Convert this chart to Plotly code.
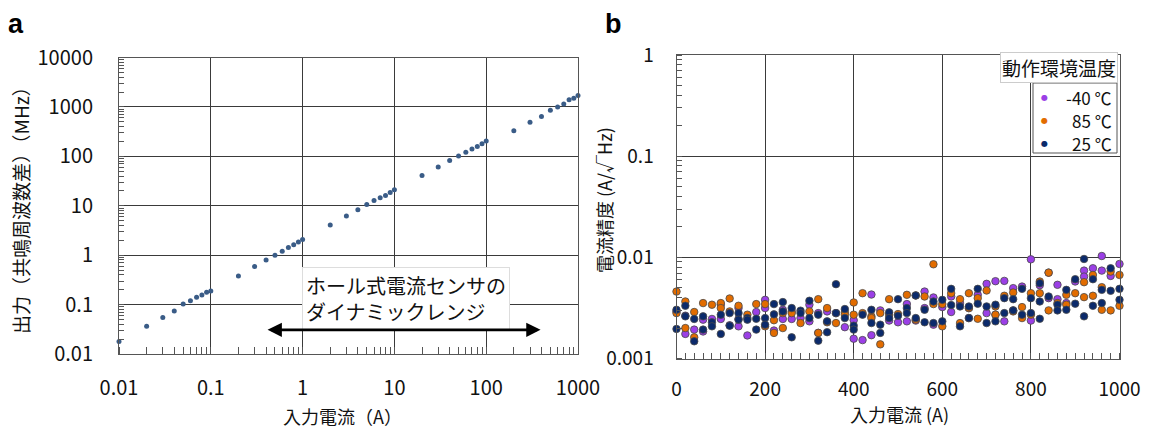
import math
import plotly.graph_objects as go

# ---------------- Panel a data ----------------
current_a = [0.01, 0.02, 0.03, 0.04, 0.05, 0.06, 0.07, 0.08, 0.09, 0.1,
             0.2, 0.3, 0.4, 0.5, 0.6, 0.7, 0.8, 0.9, 1,
             2, 3, 4, 5, 6, 7, 8, 9, 10,
             20, 30, 40, 50, 60, 70, 80, 90, 100,
             200, 300, 400, 500, 600, 700, 800, 900, 1000]
output_mhz = [0.018, 0.0363, 0.055, 0.074, 0.103, 0.119, 0.14, 0.157, 0.178, 0.189,
              0.38, 0.59, 0.80, 1.0, 1.2, 1.43, 1.62, 1.84, 2.08,
              4.06, 6.2, 8.3, 10.6, 12.8, 14.5, 16.2, 18.5, 21,
              41, 61, 82, 101, 121, 141, 158, 180, 204,
              331, 488, 637, 856, 1000, 1150, 1400, 1500, 1700]
hall_range_A = [0.4, 391]
hall_arrow_level = 0.0308
a_xticks = [0.01, 0.1, 1, 10, 100, 1000]
a_xticklabels = ["0.01", "0.1", "1", "10", "100", "1000"]
a_yticks = [0.01, 0.1, 1, 10, 100, 1000, 10000]
a_yticklabels = ["0.01", "0.1", "1", "10", "100", "1000", "10000"]

# ---------------- Panel b data ----------------
m40_x = [0, 20, 20, 40, 60, 60, 80, 100, 100, 120, 140, 140, 140, 160, 180, 200, 200, 220,
         240, 240, 260, 260, 280, 300, 300, 320, 320, 340, 360, 380, 400, 400, 420, 440, 440,
         460, 480, 500, 520, 520, 540, 560, 560, 580, 580, 600, 620, 620, 640, 660, 660, 680,
         700, 700, 720, 720, 740, 740, 760, 760, 780, 800, 800, 820, 840, 840, 860, 860, 880,
         900, 920, 920, 940, 960, 960, 980, 1000]
m40_y = [0.00292, 0.00265, 0.00175, 0.00193, 0.00242, 0.00185, 0.00246, 0.00340, 0.00246, 0.00213,
         0.00315, 0.00246, 0.00208, 0.00169, 0.00288, 0.00380, 0.00315, 0.00189,
         0.00303, 0.00246, 0.00292, 0.00246, 0.00251, 0.00340, 0.00233, 0.00281, 0.00179,
         0.00292, 0.00281, 0.00204, 0.00239, 0.00157, 0.00152, 0.00429, 0.00170,
         0.00299, 0.00237, 0.00228, 0.00345, 0.00233, 0.00237, 0.00459, 0.00315, 0.00401, 0.00216,
         0.00322, 0.00410, 0.00288, 0.00353, 0.00315, 0.00251, 0.00426,
         0.00547, 0.00281, 0.00581, 0.00271, 0.00585, 0.00233, 0.00496, 0.00299, 0.00514,
         0.00956, 0.00237, 0.00530, 0.00706, 0.00395, 0.00535, 0.00386, 0.00353,
         0.00577, 0.00739, 0.00645, 0.00780, 0.0103, 0.00739, 0.00655, 0.00860]

p85_x = [0, 0, 20, 20, 40, 40, 60, 80, 100, 100, 120, 120, 140, 160, 180, 200, 200, 220, 220,
         240, 240, 260, 280, 300, 320, 320, 340, 340, 360, 380, 380, 400, 400, 420, 420, 440, 440,
         460, 460, 480, 480, 500, 520, 540, 540, 560, 580, 580, 600, 600, 620, 640, 640, 660, 660,
         680, 680, 700, 720, 720, 740, 760, 760, 780, 780, 800, 800, 820, 820, 840, 840, 860,
         880, 880, 900, 920, 920, 940, 940, 960, 960, 980, 980, 1000, 1000]
p85_y = [0.00459, 0.00281, 0.00366, 0.00200, 0.00288, 0.00162, 0.00353, 0.00340, 0.00353, 0.00315,
         0.00392, 0.00292, 0.00332, 0.00271, 0.00345, 0.00345, 0.00208, 0.00239, 0.00179,
         0.00281, 0.00200, 0.00281, 0.00224, 0.00292, 0.00386, 0.00179, 0.00315, 0.00228,
         0.00224, 0.00286, 0.00271, 0.00358, 0.00271, 0.00442, 0.00281, 0.00261, 0.00251,
         0.00281, 0.00138, 0.00386, 0.00271, 0.00275, 0.00426, 0.00420, 0.00242, 0.00410,
         0.00854, 0.00345, 0.00345, 0.00208, 0.00442, 0.00386, 0.00224, 0.00442, 0.00315,
         0.00395, 0.00247, 0.00470, 0.00327, 0.00271, 0.00417, 0.00449, 0.00292, 0.00322, 0.00251,
         0.00442, 0.00271, 0.00577, 0.00442, 0.00706, 0.00299, 0.00353,
         0.00426, 0.00340, 0.00442, 0.00568, 0.00404, 0.00670, 0.00417, 0.00507, 0.00303,
         0.00723, 0.00299, 0.00670, 0.00332]

p25_x = [0, 0, 20, 20, 40, 40, 60, 60, 80, 80, 100, 100, 120, 120, 140, 140, 160, 160, 180, 180,
         200, 200, 220, 220, 240, 240, 260, 260, 280, 280, 300, 300, 320, 320, 340, 340, 360, 360,
         380, 380, 400, 400, 420, 440, 440, 460, 460, 480, 480, 500, 500, 520, 520, 540, 540,
         560, 560, 580, 580, 600, 600, 620, 620, 640, 640, 660, 660, 680, 680, 700, 700, 720, 720,
         740, 740, 760, 760, 780, 780, 800, 800, 820, 820, 820, 840, 860, 860, 880, 880, 900, 900,
         920, 920, 940, 940, 960, 960, 980, 980, 1000, 1000]
p25_y = [0.00303, 0.00196, 0.00332, 0.00261, 0.00246, 0.00148, 0.00261, 0.00193, 0.00228, 0.00208,
         0.00271, 0.00175, 0.00281, 0.00211, 0.00281, 0.00242, 0.00251, 0.00242, 0.00247, 0.00193,
         0.00251, 0.00216, 0.00345, 0.00273, 0.00361, 0.00292, 0.00315, 0.00162, 0.00297, 0.00281,
         0.00372, 0.00251, 0.00271, 0.00150, 0.00233, 0.00182, 0.00543, 0.00281,
         0.00308, 0.00251, 0.00211, 0.00193, 0.00271, 0.00303, 0.00224, 0.00216, 0.00179,
         0.00286, 0.00251, 0.00386, 0.00265, 0.00315, 0.00281, 0.00420, 0.00251,
         0.00303, 0.00228, 0.00366, 0.00224, 0.00380, 0.00233, 0.00488, 0.00337, 0.00327, 0.00208,
         0.00327, 0.00251, 0.00488, 0.00348, 0.00327, 0.00224, 0.00340, 0.00233,
         0.00395, 0.00281, 0.00386, 0.00299, 0.00488, 0.00271, 0.00395, 0.00281,
         0.00555, 0.00366, 0.00247, 0.00410, 0.00340, 0.00299, 0.00477, 0.00303, 0.00608, 0.00348,
         0.00963, 0.00261, 0.00608, 0.00332, 0.00477, 0.00353, 0.00780, 0.00467, 0.00488, 0.00380]

series_names = ["-40 ℃", "85 ℃", "25 ℃"]
series_colors = ["#9b3fe6", "#e26c00", "#0b2a6b"]
b_xticks = [0, 200, 400, 600, 800, 1000]
b_yticks = [0.001, 0.01, 0.1, 1]
b_yticklabels = ["0.001", "0.01", "0.1", "1"]

W, H = 1150, 430
OX, OY = 8, 8   # page body margin offset
FONT = "Noto Sans CJK JP"
GRID = "#3a3a3a"
FRAME = "#555555"

def px_x(p):
    return (p - OX) / W

def px_y(p):
    return 1 - (p - OY) / H

fig = go.Figure()

fig.add_trace(go.Scatter(
    x=current_a, y=output_mhz, mode="markers", xaxis="x", yaxis="y",
    marker=dict(size=5, color="#3a5c87"), showlegend=False, cliponaxis=False))

series = [(m40_x, m40_y), (p85_x, p85_y), (p25_x, p25_y)]
for (sx, sy), name, col in zip(series, series_names, series_colors):
    fig.add_trace(go.Scatter(
        x=sx, y=sy, mode="markers", xaxis="x2", yaxis="y2", name=name,
        marker=dict(size=7.5, color=col, line=dict(color="#4a4a4a", width=0.8)),
        showlegend=False, cliponaxis=False))

tick_a = dict(family=FONT, size=20, color="#111")
tick_b = dict(family=FONT, size=19, color="#111")
minor_log = dict(ticks="inside", ticklen=5, tickcolor=FRAME, dtick="D1", showgrid=False)

fig.update_layout(
    width=W, height=H,
    margin=dict(l=0, r=0, t=0, b=0, autoexpand=False),
    paper_bgcolor="white", plot_bgcolor="white",
    font=dict(family=FONT, size=18, color="#111"),
    showlegend=False,
    xaxis=dict(type="log", domain=[px_x(119), px_x(578)], range=[-2, 3],
               tickvals=a_xticks, ticktext=a_xticklabels, tickfont=tick_a,
               showgrid=True, gridcolor=GRID, gridwidth=1,
               showline=True, linecolor=FRAME, linewidth=1, mirror=True,
               ticks="", ticklabelstandoff=16, automargin=False,
               minor=dict(ticks="inside", ticklen=7, tickcolor=FRAME, dtick="D1", showgrid=False),
               zeroline=False, anchor="y"),
    yaxis=dict(type="log", domain=[px_y(354), px_y(57.5)], range=[-2, 4],
               tickvals=a_yticks, ticktext=a_yticklabels, tickfont=tick_a,
               showgrid=True, gridcolor=GRID, gridwidth=1,
               showline=True, linecolor=FRAME, linewidth=1, mirror=True,
               ticks="", ticklabelstandoff=21, automargin=False,
               minor=minor_log, zeroline=False, anchor="x"),
    xaxis2=dict(domain=[px_x(676.5), px_x(1119.5)], range=[0, 1000],
                tickvals=b_xticks, tickfont=tick_b,
                showgrid=True, gridcolor=GRID, gridwidth=1,
                showline=True, linecolor=FRAME, linewidth=1, mirror=True,
                ticks="", ticklabelstandoff=14, automargin=False,
                minor=dict(ticks="inside", ticklen=6, tickcolor=FRAME, dtick=20, showgrid=False),
                zeroline=False, anchor="y2"),
    yaxis2=dict(type="log", domain=[px_y(358.5), px_y(55)], range=[-3, 0],
                tickvals=b_yticks, ticktext=b_yticklabels, tickfont=tick_b,
                showgrid=True, gridcolor=GRID, gridwidth=1,
                showline=True, linecolor=FRAME, linewidth=1, mirror=True,
                ticks="", ticklabelstandoff=18, automargin=False,
                minor=minor_log, zeroline=False, anchor="x2"),
)

# legend box for panel b (drawn as a framed key)
fig.add_shape(type="rect", xref="paper", yref="paper",
              x0=px_x(1033), x1=px_x(1117), y0=px_y(153), y1=px_y(83),
              line=dict(color="#555", width=1), fillcolor="white", layer="above")

ann = []
# panel letters
ann.append(dict(text="<b>a</b>", x=px_x(6), y=px_y(41), xref="paper", yref="paper",
                xanchor="left", yanchor="bottom", showarrow=False,
                font=dict(family="Liberation Sans", size=27, color="#000")))
ann.append(dict(text="<b>b</b>", x=px_x(603), y=px_y(41), xref="paper", yref="paper",
                xanchor="left", yanchor="bottom", showarrow=False,
                font=dict(family="Liberation Sans", size=27, color="#000")))
# axis titles
ann.append(dict(text="出力（共鳴周波数差）（MHz）", x=px_x(20), y=px_y(206), xref="paper", yref="paper",
                textangle=-90, showarrow=False, xanchor="center", yanchor="middle",
                font=dict(family=FONT, size=19, color="#111")))
ann.append(dict(text="入力電流（A）", x=px_x(342), y=px_y(416), xref="paper", yref="paper",
                showarrow=False, xanchor="center", yanchor="middle",
                font=dict(family=FONT, size=18, color="#111")))
ann.append(dict(text="電流精度 (A/√Hz)", x=px_x(604), y=px_y(200), xref="paper", yref="paper",
                textangle=-90, showarrow=False, xanchor="center", yanchor="middle",
                font=dict(family=FONT, size=18, color="#111")))
ann.append(dict(text="入力電流 (A)", x=px_x(899), y=px_y(414), xref="paper", yref="paper",
                showarrow=False, xanchor="center", yanchor="middle",
                font=dict(family=FONT, size=18, color="#111")))
# legend title box
ann.append(dict(text="動作環境温度", x=px_x(1118), y=px_y(83), xref="paper", yref="paper",
                showarrow=False, xanchor="right", yanchor="bottom",
                bgcolor="white", bordercolor="#cccccc", borderwidth=1, borderpad=1,
                font=dict(family=FONT, size=19, color="#111")))
# legend entries
row_y = [97, 120, 143]
for name, col, ry in zip(series_names, series_colors, row_y):
    ann.append(dict(text="●", x=px_x(1044), y=px_y(ry), xref="paper", yref="paper",
                    showarrow=False, xanchor="center", yanchor="middle",
                    font=dict(family="DejaVu Sans", size=8, color=col)))
    ann.append(dict(text=name, x=px_x(1114), y=px_y(ry), xref="paper", yref="paper",
                    showarrow=False, xanchor="right", yanchor="middle",
                    font=dict(family=FONT, size=17, color="#111")))
# dynamic range text box
ann.append(dict(text="ホール式電流センサの<br>ダイナミックレンジ", x=px_x(302), y=px_y(267),
                xref="paper", yref="paper", showarrow=False, xanchor="left", yanchor="top",
                align="left", bgcolor="white", bordercolor="#dddddd", borderwidth=1, borderpad=3,
                font=dict(family=FONT, size=20, color="#111")))
# double-headed arrow
ann.append(dict(text="", x=math.log10(hall_range_A[1]), y=math.log10(hall_arrow_level),
                ax=math.log10(hall_range_A[0]), ay=math.log10(hall_arrow_level),
                xref="x", yref="y", axref="x", ayref="y", showarrow=True,
                arrowhead=2, arrowside="end+start", arrowwidth=2.6, arrowsize=1.1,
                arrowcolor="#000", standoff=0, startstandoff=0))
fig.update_layout(annotations=ann)

fig.write_html("out.html")
